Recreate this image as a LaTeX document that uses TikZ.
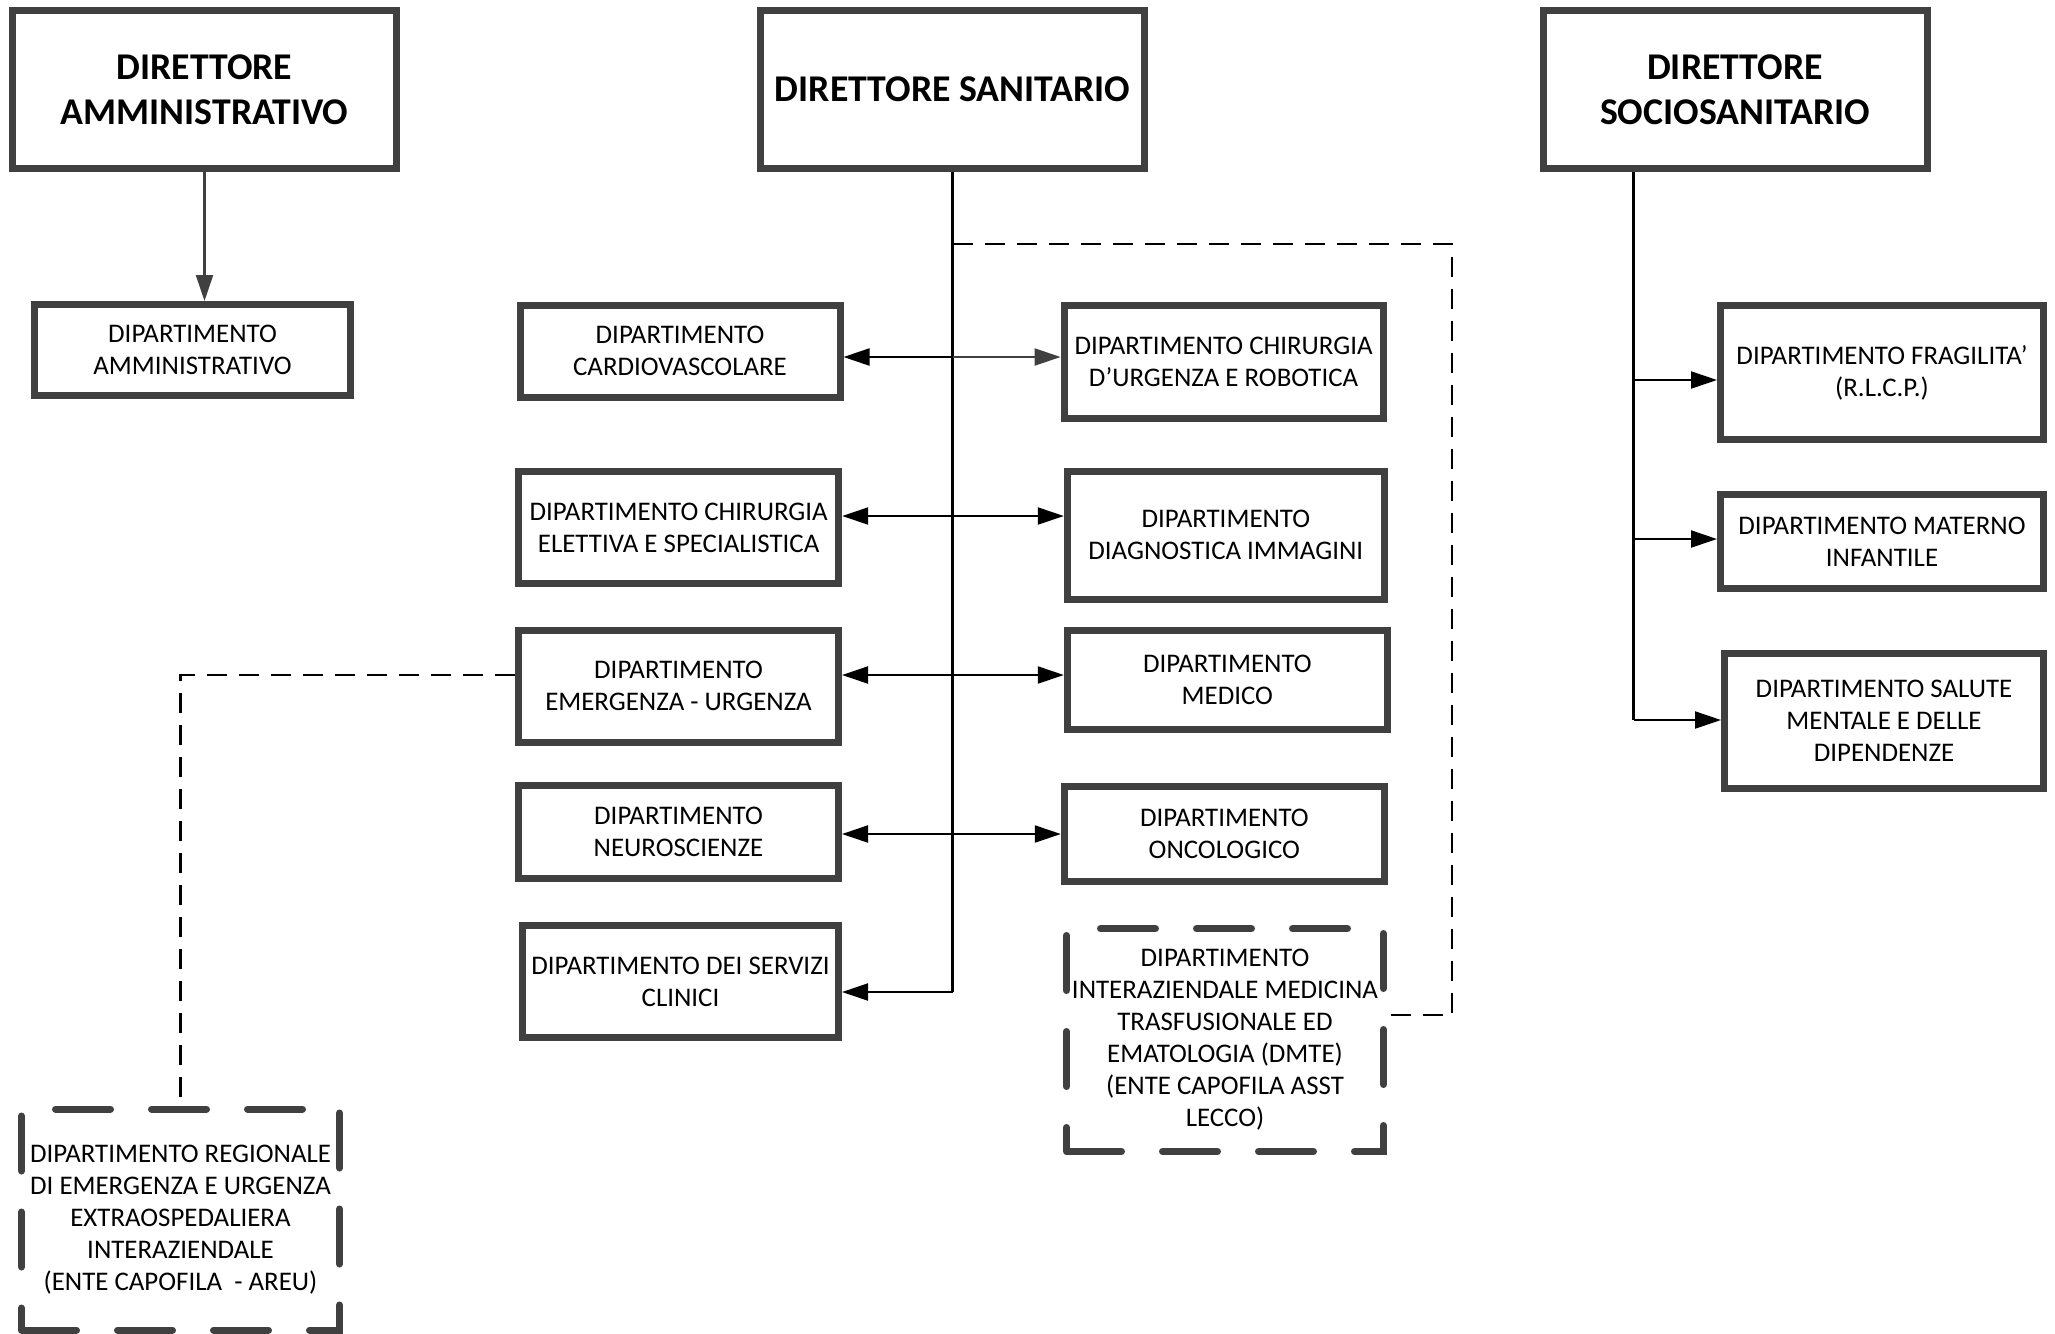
\documentclass[tikz,border=0pt]{standalone}
\usepackage{fontspec}
\setmainfont{Carlito}
\usetikzlibrary{arrows.meta}
\definecolor{boxgray}{HTML}{404040}

\begin{document}
\begin{tikzpicture}[>={Triangle[length=2.6mm,width=1.7mm]},
  box/.style={draw=boxgray, line width=0.7mm, fill=white, inner sep=0pt, align=center, font=\fontsize{7.65}{9.1}\selectfont},
  head/.style={box, minimum width=3.84cm, minimum height=1.58cm, font=\fontsize{10.75}{12.8}\selectfont\bfseries},
  dashbox/.style={box, dash pattern=on 5.5mm off 4.1mm, line cap=round},
  link/.style={line width=0.6pt},
  dashlink/.style={link, dash pattern=on 2mm off 1.2mm}]
\useasboundingbox (0,0) rectangle (20.55,-13.33);

\node (da) at (2.045,-0.895) [head] {DIRETTORE\\AMMINISTRATIVO};
\node (ds) at (9.525,-0.895) [head] {DIRETTORE SANITARIO};
\node (dss) at (17.35,-0.895) [head] {DIRETTORE\\SOCIOSANITARIO};

\node (amm) at (1.925,-3.50) [box, minimum width=3.16cm, minimum height=0.91cm] {DIPARTIMENTO\\AMMINISTRATIVO};

\node (cardio) at (6.80,-3.51) [box, minimum width=3.20cm, minimum height=0.92cm] {DIPARTIMENTO\\CARDIOVASCOLARE};
\node (chirurg) at (12.236,-3.617) [box, minimum width=3.19cm, minimum height=1.13cm] {DIPARTIMENTO CHIRURGIA\\D’URGENZA E ROBOTICA};
\node (chirel) at (6.787,-5.275) [box, minimum width=3.20cm, minimum height=1.12cm] {DIPARTIMENTO CHIRURGIA\\ELETTIVA E SPECIALISTICA};
\node (diagn) at (12.258,-5.353) [box, minimum width=3.17cm, minimum height=1.28cm] {DIPARTIMENTO\\DIAGNOSTICA IMMAGINI};
\node (emerg) at (6.785,-6.863) [box, minimum width=3.20cm, minimum height=1.12cm] {DIPARTIMENTO\\EMERGENZA - URGENZA};
\node (medico) at (12.273,-6.80) [box, minimum width=3.20cm, minimum height=0.99cm] {DIPARTIMENTO\\MEDICO};
\node (neuro) at (6.785,-8.317) [box, minimum width=3.20cm, minimum height=0.93cm] {DIPARTIMENTO\\NEUROSCIENZE};
\node (onco) at (12.243,-8.34) [box, minimum width=3.20cm, minimum height=0.95cm] {DIPARTIMENTO\\ONCOLOGICO};
\node (servizi) at (6.805,-9.815) [box, minimum width=3.16cm, minimum height=1.12cm] {DIPARTIMENTO DEI SERVIZI\\CLINICI};
\node (dmte) at (12.25,-10.40) [dashbox, minimum width=3.17cm, minimum height=2.23cm] {DIPARTIMENTO\\INTERAZIENDALE MEDICINA\\TRASFUSIONALE ED\\EMATOLOGIA (DMTE)\\(ENTE CAPOFILA ASST\\LECCO)};

\node (fragil) at (18.82,-3.725) [box, minimum width=3.23cm, minimum height=1.34cm] {DIPARTIMENTO FRAGILITA’\\(R.L.C.P.)};
\node (materno) at (18.82,-5.415) [box, minimum width=3.23cm, minimum height=0.94cm] {DIPARTIMENTO MATERNO\\INFANTILE};
\node (salute) at (18.84,-7.207) [box, minimum width=3.19cm, minimum height=1.35cm] {DIPARTIMENTO SALUTE\\MENTALE E DELLE\\DIPENDENZE};

\node (reg) at (1.805,-12.195) [dashbox, minimum width=3.18cm, minimum height=2.21cm] {DIPARTIMENTO REGIONALE\\DI EMERGENZA E URGENZA\\EXTRAOSPEDALIERA\\INTERAZIENDALE\\(ENTE CAPOFILA \ - AREU)};

\draw[link, boxgray, ->] (da.south) -- (da.south |- amm.north);

\coordinate (c0) at (9.525,-2.44);
\coordinate (c1) at (9.525,-3.57);
\coordinate (c2) at (9.525,-5.16);
\coordinate (c3) at (9.525,-6.75);
\coordinate (c4) at (9.525,-8.34);
\coordinate (c5) at (9.525,-9.92);
\draw[link] (ds.south) -- (c5);
\draw[link, ->] (c1) -- (c1 -| cardio.east);
\draw[link, boxgray, ->] (c1) -- (c1 -| chirurg.west);
\draw[link, <->] (c2 -| chirel.east) -- (c2 -| diagn.west);
\draw[link, <->] (c3 -| emerg.east) -- (c3 -| medico.west);
\draw[link, <->] (c4 -| neuro.east) -- (c4 -| onco.west);
\draw[link, ->] (c5) -- (c5 -| servizi.east);

\coordinate (k) at (14.52,-10.15);
\draw[dashlink] (c0) -| (k) -- (k -| dmte.east);
\draw[dashlink] (c3 -| emerg.west) -| (reg.north);

\coordinate (s1) at (16.335,-3.80);
\coordinate (s2) at (16.335,-5.39);
\coordinate (s3) at (16.335,-7.20);
\draw[link] (dss.south -| s1) -- (s3);
\draw[link, ->] (s1) -- (s1 -| fragil.west);
\draw[link, ->] (s2) -- (s2 -| materno.west);
\draw[link, ->] (s3) -- (s3 -| salute.west);
\end{tikzpicture}
\end{document}
